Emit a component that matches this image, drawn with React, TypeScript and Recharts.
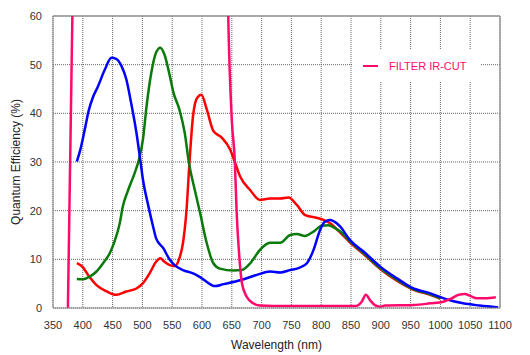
import {
  CartesianGrid,
  Legend,
  Line,
  LineChart,
  ReferenceLine,
  XAxis,
  YAxis,
} from "recharts";

// wavelength (nm) / quantum efficiency (%)
const blueNm = [
  390, 396, 403, 410, 417, 425, 437, 448, 456, 465, 473, 481, 490, 497, 501,
  509, 518, 523, 535, 546, 554, 568, 585, 596, 602, 622, 636, 664, 692, 714,
  731, 748, 764, 776, 787, 798, 806, 815, 826, 832, 848, 871, 899, 927, 952,
  983, 1010, 1038, 1066, 1097,
];
const blueQe = [
  30.1, 32.6, 36.5, 40.6, 43.3, 45.4, 49.0, 51.4, 51.2, 49.7, 47.0, 42.2,
  36.0, 29.9, 26.3, 21.5, 16.7, 14.3, 12.3, 9.9, 8.8, 7.8, 7.1, 6.4, 5.9, 4.5,
  4.9, 5.7, 6.8, 7.5, 7.3, 7.8, 8.3, 9.2, 11.9, 16.0, 17.7, 18.1, 17.4, 16.7,
  14.0, 11.6, 8.5, 6.1, 4.2, 3.0, 1.8, 0.96, 0.5, 0.1,
];

const greenNm = [
  390, 400, 411, 423, 434, 445, 453, 462, 467, 476, 487, 494, 501, 507, 515,
  523, 530, 537, 546, 552, 562, 571, 578, 588, 597, 608, 619, 630, 653, 667,
  681, 697, 714, 731, 748, 759, 773, 787, 801, 812, 823, 832, 848, 871, 899,
  927, 952, 983, 1000,
];
const greenQe = [
  5.95, 5.9, 6.4, 7.5, 9.2, 11.2, 13.6, 17.4, 20.8, 24.2, 27.7, 30.4, 34.7,
  41.5, 48.4, 52.5, 53.5, 52.1, 47.7, 44.3, 40.8, 36.0, 29.9, 24.2, 19.4,
  13.3, 9.2, 8.1, 7.7, 7.8, 9.2, 11.9, 13.4, 13.4, 15.0, 15.2, 14.8, 15.7,
  16.9, 17.0, 16.4, 15.7, 13.7, 11.3, 8.2, 5.8, 4.0, 2.8, 2.0,
];

const redNm = [
  390, 400, 411, 423, 440, 456, 473, 490, 501, 512, 523, 530, 537, 546, 554,
  562, 568, 574, 579, 585, 592, 599, 608, 619, 633, 647, 655, 664, 681, 697,
  714, 731, 745, 759, 773, 790, 804, 815, 832, 848, 871, 899, 927, 952, 983,
  1000,
];
const redQe = [
  9.2, 8.4, 6.4, 4.7, 3.4, 2.7, 3.4, 4.0, 5.1, 7.1, 9.5, 10.2, 9.5, 8.8, 8.6,
  10.2, 13.3, 20.1, 30.0, 39.5, 43.2, 43.8, 40.8, 36.4, 35.0, 32.6, 30.0,
  27.0, 24.2, 22.2, 22.5, 22.5, 22.7, 21.2, 19.1, 18.6, 18.1, 17.4, 15.5,
  13.5, 11.1, 8.0, 5.6, 3.9, 2.7, 1.9,
];

// IR-cut filter transmission, goes off the top of the plot between the edges
const filterNm = [
  375, 382.5, 386, 640, 644, 650, 655, 658, 663, 667, 675, 686, 697, 720, 857,
  868, 875, 882, 890, 899, 907, 955, 983, 1005, 1019, 1030, 1041, 1050, 1061,
  1075, 1093,
];
const filterQe = [
  0, 60, 90, 90, 60, 38.6, 30.4, 20.1, 9.9, 5.1, 2.3, 0.96, 0.5, 0.4, 0.4,
  1.3, 2.7, 1.6, 0.6, 0.27, 0.5, 0.6, 0.96, 1.3, 2.0, 2.7, 2.9, 2.5, 2.0,
  2.0, 2.2,
];

const xTicks = [
  350, 400, 450, 500, 550, 600, 650, 700, 750, 800, 850, 900, 950, 1000, 1050,
  1100,
];
const yTicks = [0, 10, 20, 30, 40, 50, 60];
const xMinorTicks = Array.from({ length: 76 }, (_, i) => 350 + i * 10);
const yMinorTicks = Array.from({ length: 31 }, (_, i) => i * 2);

function toPoints(nm: number[], qe: number[]) {
  return nm.map((wl, i) => ({ wl, qe: qe[i] }));
}

const FILTER = "#ff0a6c";

function FilterLegend() {
  return (
    <div
      style={{
        display: "flex",
        alignItems: "center",
        height: 32,
        background: "#fff",
      }}
    >
      <span
        style={{
          display: "inline-block",
          width: 15,
          height: 2.5,
          background: FILTER,
          marginLeft: 11,
          marginRight: 11,
        }}
      />
      <span style={{ color: FILTER, fontSize: 11 }}>FILTER IR-CUT</span>
    </div>
  );
}

export default function App() {
  return (
    <div style={{ position: "absolute", left: 0, top: 0 }}>
      <LineChart
        width={530}
        height={355}
        margin={{ top: 16, right: 30, bottom: 0, left: 0 }}
        style={{ fontFamily: "'Liberation Sans', Arial, sans-serif" }}
      >
        <CartesianGrid stroke="#666" strokeDasharray="1 1" />

        <XAxis
          dataKey="wl"
          type="number"
          domain={[350, 1100]}
          ticks={xTicks}
          interval={0}
          height={47}
          tickSize={0}
          tickMargin={13}
          tick={{ fill: "#333", fontSize: 11 }}
          axisLine={{ stroke: "#888" }}
          tickLine={false}
          allowDataOverflow
          label={{
            value: "Wavelength (nm)",
            position: "insideBottom",
            offset: 6,
            fill: "#222",
            fontSize: 12,
          }}
        />
        <XAxis
          xAxisId="minor"
          type="number"
          domain={[350, 1100]}
          ticks={xMinorTicks}
          interval={0}
          mirror
          tick={false}
          tickSize={3}
          axisLine={false}
          tickLine={{ stroke: "#777" }}
        />

        <YAxis
          type="number"
          domain={[0, 60]}
          ticks={yTicks}
          interval={0}
          width={53}
          tickSize={0}
          tickMargin={11}
          tick={{ fill: "#333", fontSize: 11 }}
          axisLine={{ stroke: "#888" }}
          tickLine={false}
          allowDataOverflow
          label={{
            value: "Quantum Efficiency (%)",
            angle: -90,
            position: "insideLeft",
            offset: 16,
            fill: "#222",
            fontSize: 12,
            style: { textAnchor: "middle" },
          }}
        />
        <YAxis
          yAxisId="minor"
          type="number"
          domain={[0, 60]}
          ticks={yMinorTicks}
          interval={0}
          mirror
          tick={false}
          tickSize={3}
          axisLine={false}
          tickLine={{ stroke: "#777" }}
        />

        <ReferenceLine y={60} stroke="#999" strokeWidth={1.5} />
        <ReferenceLine x={1100} stroke="#999" strokeWidth={1.5} />

        <Line
          data={toPoints(redNm, redQe)}
          dataKey="qe"
          type="monotone"
          stroke="#ff0000"
          strokeWidth={2.5}
          dot={false}
          legendType="none"
          isAnimationActive={false}
        />
        <Line
          data={toPoints(greenNm, greenQe)}
          dataKey="qe"
          type="monotone"
          stroke="#0a7a0a"
          strokeWidth={2.5}
          dot={false}
          legendType="none"
          isAnimationActive={false}
        />
        <Line
          data={toPoints(blueNm, blueQe)}
          dataKey="qe"
          type="monotone"
          stroke="#0000ff"
          strokeWidth={2.5}
          dot={false}
          legendType="none"
          isAnimationActive={false}
        />
        <Line
          data={toPoints(filterNm, filterQe)}
          dataKey="qe"
          name="FILTER IR-CUT"
          type="monotone"
          stroke={FILTER}
          strokeWidth={2.5}
          dot={false}
          isAnimationActive={false}
        />

        <Legend
          layout="vertical"
          align="center"
          verticalAlign="middle"
          content={() => <FilterLegend />}
          wrapperStyle={{ left: 352, top: 50, width: 128, height: 32 }}
        />
      </LineChart>
    </div>
  );
}
